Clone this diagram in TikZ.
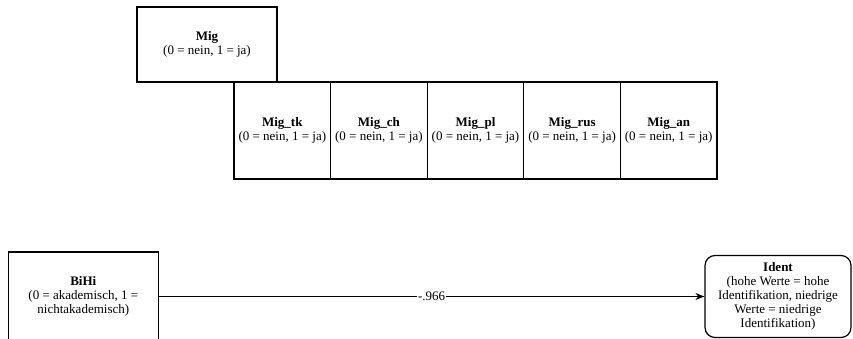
\documentclass[tikz,border=0pt]{standalone}
\usepackage{fontspec}
\setmainfont{Liberation Serif}
\usetikzlibrary{positioning,arrows.meta}

\tikzset{
	kasten/.style={draw=black, line width=1.2pt, fill=white, align=center,
		inner sep=0pt, font=\fontsize{13}{14}\selectfont},
	pfeil/.style={-{Stealth[length=9pt,width=7pt]}, line width=1.2pt},
}

\begin{document}
\begin{tikzpicture}[x=1pt, y=-1pt]
	\useasboundingbox (0,0) rectangle (853,339);
	% Migrationshintergrund oben
	\node[kasten, minimum width=140pt, minimum height=75pt] (mig) at (207,44.5)
		{\textbf{Mig}\\(0 = nein, 1 = ja)};
	% Herkunftsgruppen
	\foreach \name/\i in {tk/0,ch/1,pl/2,rus/3,an/4}
		\node[kasten, minimum width=96.6pt, minimum height=97pt] (mig\name)
			at (282.3+96.6*\i,130.5) {\textbf{Mig\_\name}\\(0 = nein, 1 = ja)};

	% Bildungshintergrund und Identifikation
	\node[kasten, minimum width=150pt, minimum height=89pt] (bihi) at (83.3,296.5)
		{\textbf{BiHi}\\(0 = akademisch, 1 =\\nichtakademisch)};
	\node[kasten, rounded corners=10pt, minimum width=146pt, minimum height=82pt]
		(ident) at (778,296.5) {\textbf{Ident}\\(hohe Werte = hohe\\Identifikation,
		niedrige\\Werte = niedrige\\Identifikation)};
	\draw[pfeil] (bihi) -- node[fill=white, inner sep=1pt,
		font=\fontsize{13}{14}\selectfont] (wert) {-.966} (ident);
\end{tikzpicture}
\end{document}
